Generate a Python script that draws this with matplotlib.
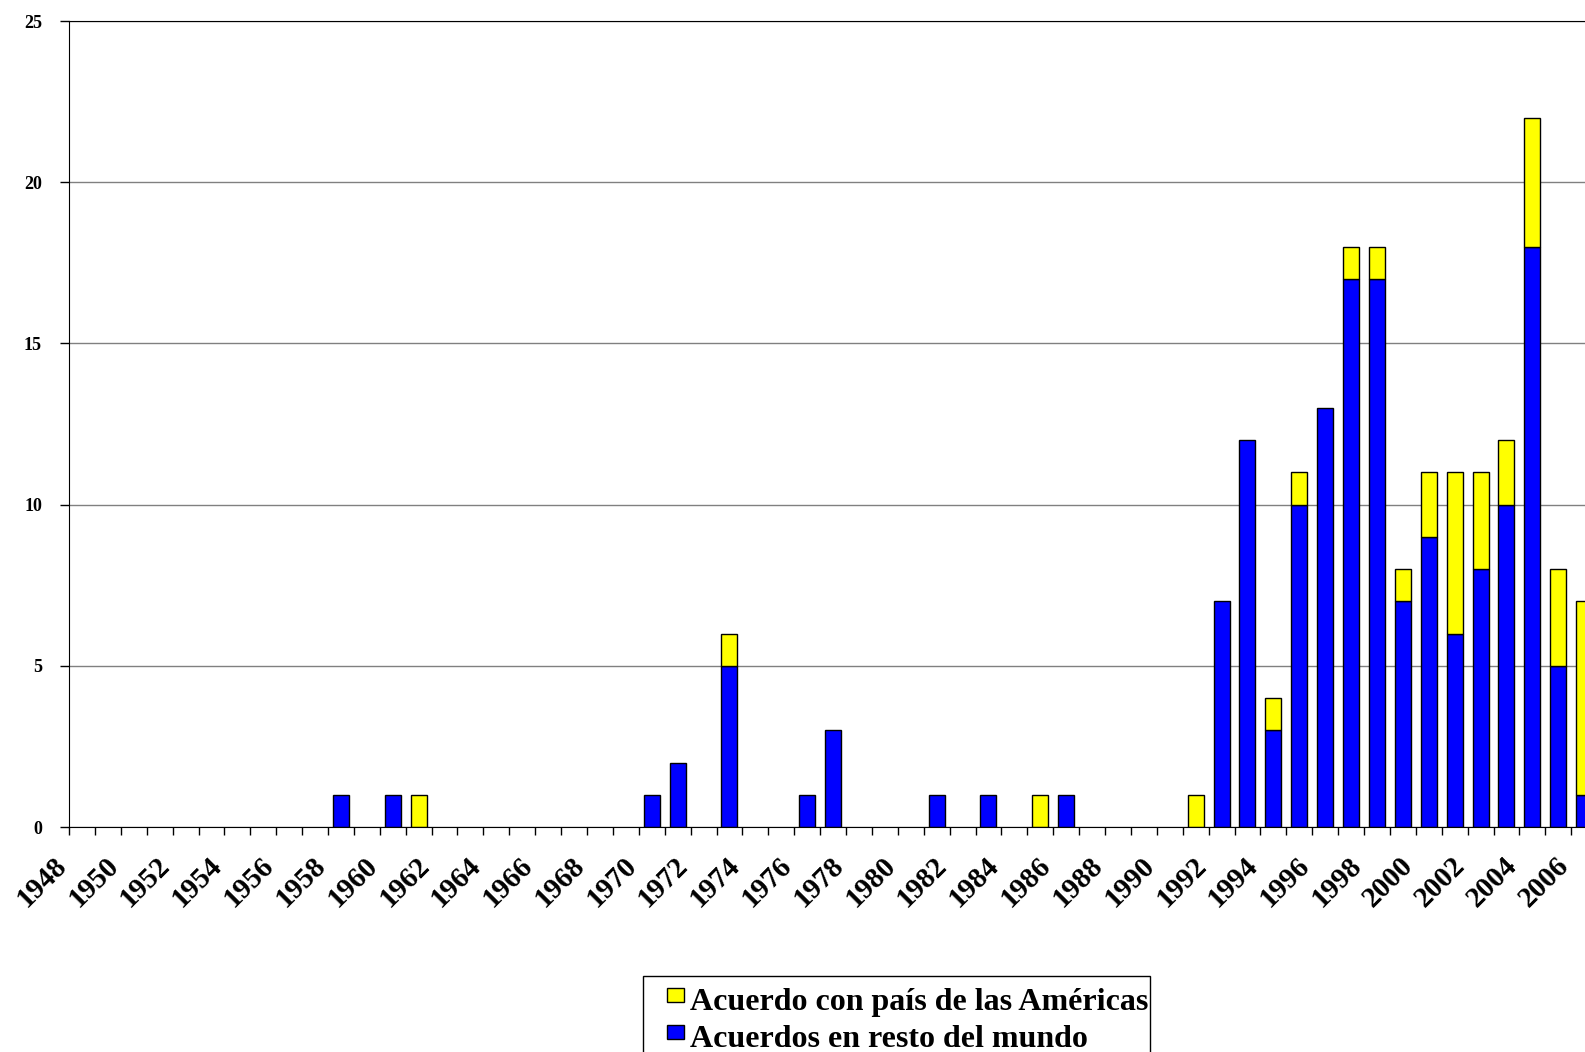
import matplotlib.pyplot as plt
from matplotlib.patches import Rectangle
from matplotlib.transforms import ScaledTranslation
import numpy as np

plt.rcParams['font.family'] = ['Liberation Serif', 'DejaVu Serif']
plt.rcParams['font.weight'] = 'bold'

years = list(range(1948, 2008))
resto_mundo = [0, 0, 0, 0, 0, 0, 0, 0, 0, 0,        # 1948-57
               1, 0, 1, 0, 0, 0, 0, 0, 0, 0,        # 1958-67
               0, 0, 1, 2, 0, 5, 0, 0, 1, 3,        # 1968-77
               0, 0, 0, 1, 0, 1, 0, 0, 1, 0,        # 1978-87
               0, 0, 0, 0, 7, 12, 3, 10, 13, 17,    # 1988-97
               17, 7, 9, 6, 8, 10, 18, 5, 1, 0]     # 1998-2007
americas = [0, 0, 0, 0, 0, 0, 0, 0, 0, 0,
            0, 0, 0, 1, 0, 0, 0, 0, 0, 0,
            0, 0, 0, 0, 0, 1, 0, 0, 0, 0,
            0, 0, 0, 0, 0, 0, 0, 1, 0, 0,
            0, 0, 0, 1, 0, 0, 1, 1, 0, 1,
            1, 1, 2, 5, 3, 2, 4, 3, 6, 0]
label_americas = 'Acuerdo con país de las Américas'
label_resto = 'Acuerdos en resto del mundo'

AZUL = '#0000FF'
AMARILLO = '#FFFF00'

W, H = 1585, 1052
fig = plt.figure(figsize=(W / 100, H / 100), dpi=100)
ax = fig.add_axes([69 / W, 1 - 827 / H, 1554 / W, 806 / H])

x = np.arange(len(years))
azul = np.array(resto_mundo)
amar = np.array(americas)
m1 = azul > 0
m2 = amar > 0
ax.bar(x[m1], azul[m1], width=0.62, color=AZUL, edgecolor='black', linewidth=1)
ax.bar(x[m2], amar[m2], width=0.62, bottom=azul[m2], color=AMARILLO,
       edgecolor='black', linewidth=1)

ax.set_xlim(-0.5, len(years) - 0.5)
ax.set_ylim(0, 25)
ax.set_yticks(range(0, 26, 5))
ax.yaxis.grid(True, color='#808080', linewidth=1)
ax.set_axisbelow(True)
ax.tick_params(axis='y', length=6.5, width=1, pad=13, labelsize=13)
ax.spines['right'].set_visible(False)

# ticks between categories, labels every two years
ax.set_xticks(x - 0.5, minor=True)
ax.tick_params(axis='x', which='minor', length=6, width=1)
ax.set_xticks(x[::2])
ax.set_xticklabels([str(y) for y in years[::2]], rotation=45, ha='right',
                   va='top', rotation_mode='anchor', fontsize=21)
ax.tick_params(axis='x', which='major', length=0, pad=18)
offset = ScaledTranslation(-0.29, 0, fig.dpi_scale_trans)
for lab in ax.get_xticklabels():
    lab.set_transform(lab.get_transform() + offset)

# legend box (bottom cut by the image edge)
fig.patches.append(Rectangle((643 / W, -0.05), (1150 - 643) / W, 0.05 + (H - 976) / H,
                             transform=fig.transFigure, facecolor='white',
                             edgecolor='black', linewidth=1))
for color, text, top, base in [(AMARILLO, label_americas, 988, 1010),
                               (AZUL, label_resto, 1025, 1047)]:
    fig.patches.append(Rectangle((667 / W, 1 - (top + 14) / H), 17 / W, 14 / H,
                                 transform=fig.transFigure, facecolor=color,
                                 edgecolor='black', linewidth=1))
    fig.text(690 / W, 1 - base / H, text, fontsize=23, va='baseline', ha='left')

fig.savefig('out.png', dpi=100)
